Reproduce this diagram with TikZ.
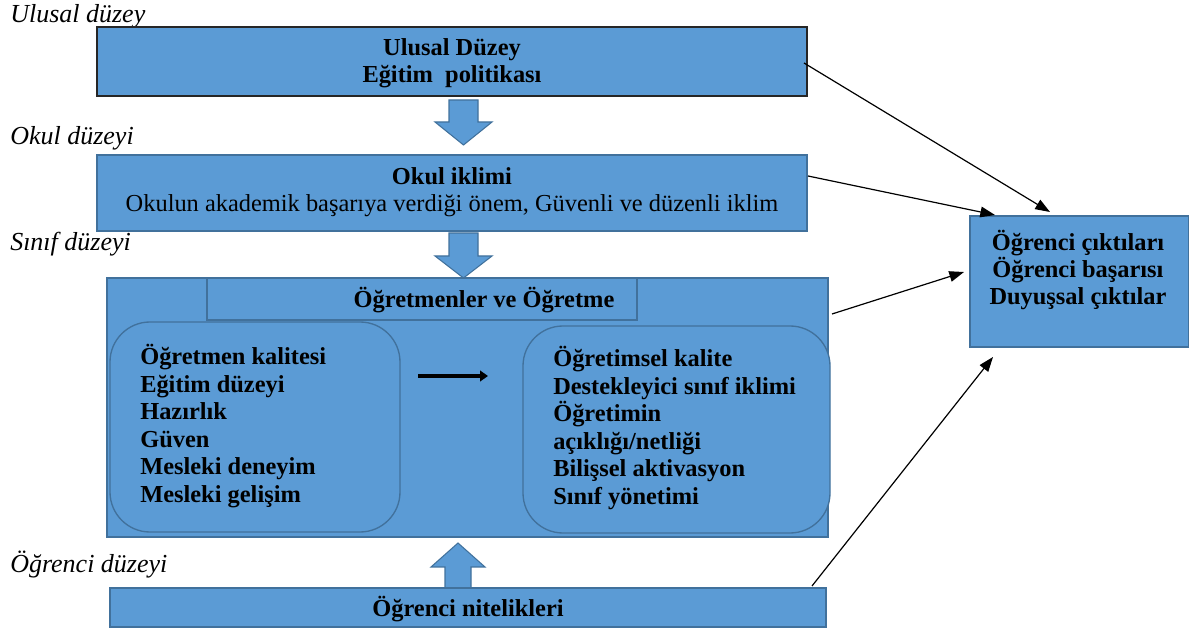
\documentclass[tikz,border=0pt]{standalone}
\usepackage{fontspec}
\setmainfont{Liberation Serif}
\usetikzlibrary{arrows.meta,fit}
\definecolor{fillb}{HTML}{5B9BD5}
\definecolor{edgeb}{HTML}{41719C}
\begin{document}
\begin{tikzpicture}[x=0.75pt,y=-0.75pt,
  box/.style={draw=edgeb,fill=fillb,line width=1pt,inner sep=0pt},
  darkbox/.style={draw=black!85,fill=fillb,line width=1.6pt,inner sep=0pt},
  roundbox/.style={draw=edgeb,fill=fillb,line width=1pt,rounded corners=30pt,inner sep=0pt},
  blockarrow/.style={draw=edgeb,fill=fillb,line width=0.8pt},
  lvl/.style={font=\fontsize{19.5}{22}\selectfont\itshape,anchor=base west,inner sep=0pt},
  txt/.style={font=\fontsize{18.3}{20.6}\selectfont\bfseries,inner sep=0pt},
  conn/.style={-{Triangle[length=11pt,width=8pt]},line width=0.9pt,black}
]
\useasboundingbox (0,0) rectangle (1189,630);

% level labels
\node[lvl] (l1) at (10,23) {Ulusal düzey};
\node[lvl] (l2) at (10,145) {Okul düzeyi};
\node[lvl] (l3) at (10,251) {Sınıf düzeyi};
\node[lvl] (l4) at (10,573) {Öğrenci düzeyi};

% Ulusal box
\node[darkbox,fit={(97,27) (807,96)}] (ul) {};
\node[txt,align=center] (ult) at (452,63) {Ulusal Düzey\\Eğitim\ \ politikası};

% arrow 1
\path[blockarrow] (449,100) -- (478,100) -- (478,122) -- (492,122) -- (463.5,145) -- (435,122) -- (449,122) -- cycle;

% Okul box
\node[box,fit={(97,155) (807,231)}] (ok) {};
\node[txt,align=center] (okt) at (452,192) {Okul iklimi\\\mdseries Okulun akademik başarıya verdiği önem, Güvenli ve düzenli iklim};

% arrow 2
\path[blockarrow] (449,233) -- (478,233) -- (478,256) -- (492,256) -- (463.5,278) -- (435,256) -- (449,256) -- cycle;

% Sinif box
\node[box,fit={(107,278) (828,537)}] (sn) {};
\node[box,fit={(207,278) (637,320)}] (tab) {};
\node[txt] (tabt) at (484,300) {Öğretmenler ve Öğretme};
\node[roundbox,fit={(110,322) (400,532)}] (lq) {};
\node[roundbox,fit={(523,326) (830,533)}] (rq) {};
\node[txt,align=left,anchor=west] (lqt) at (140,426) {Öğretmen kalitesi\\Eğitim düzeyi\\Hazırlık\\Güven\\Mesleki deneyim\\Mesleki gelişim};
\node[txt,align=left,anchor=west] (rqt) at (553,428) {Öğretimsel kalite\\Destekleyici sınıf iklimi\\Öğretimin\\açıklığı/netliği\\Bilişsel aktivasyon\\Sınıf yönetimi};
\coordinate (ma) at (418,376);
\coordinate (mb) at (488,376);
\draw[-{Triangle[length=6pt,width=8pt]},line width=3pt,black] (ma) -- (mb);

% arrow 3 (up)
\path[blockarrow] (445,588) -- (471,588) -- (471,567) -- (485,567) -- (458,543) -- (431,567) -- (445,567) -- cycle;

% Ogrenci nitelikleri
\node[box,fit={(110,588) (826,627)}] (on) {};
\node[txt] (ont) at (468,609) {Öğrenci nitelikleri};

% Outcome box
\node[box,fit={(970,216) (1189,347)}] (oc) {};
\node[txt,align=center] (oct) at (1078,270) {Öğrenci çıktıları\\Öğrenci başarısı\\Duyuşsal çıktılar};

% connectors
\coordinate (s1) at (804,63);
\coordinate (t1) at (1050,212);
\coordinate (s2) at (808,176);
\coordinate (t2) at (995,215);
\coordinate (s3) at (832,314);
\coordinate (t3) at (964,272);
\coordinate (s4) at (812,586);
\coordinate (t4) at (993,357);
\draw[conn] (s1) -- (t1);
\draw[conn] (s2) -- (t2);
\draw[conn] (s3) -- (t3);
\draw[conn] (s4) -- (t4);
\end{tikzpicture}
\end{document}
